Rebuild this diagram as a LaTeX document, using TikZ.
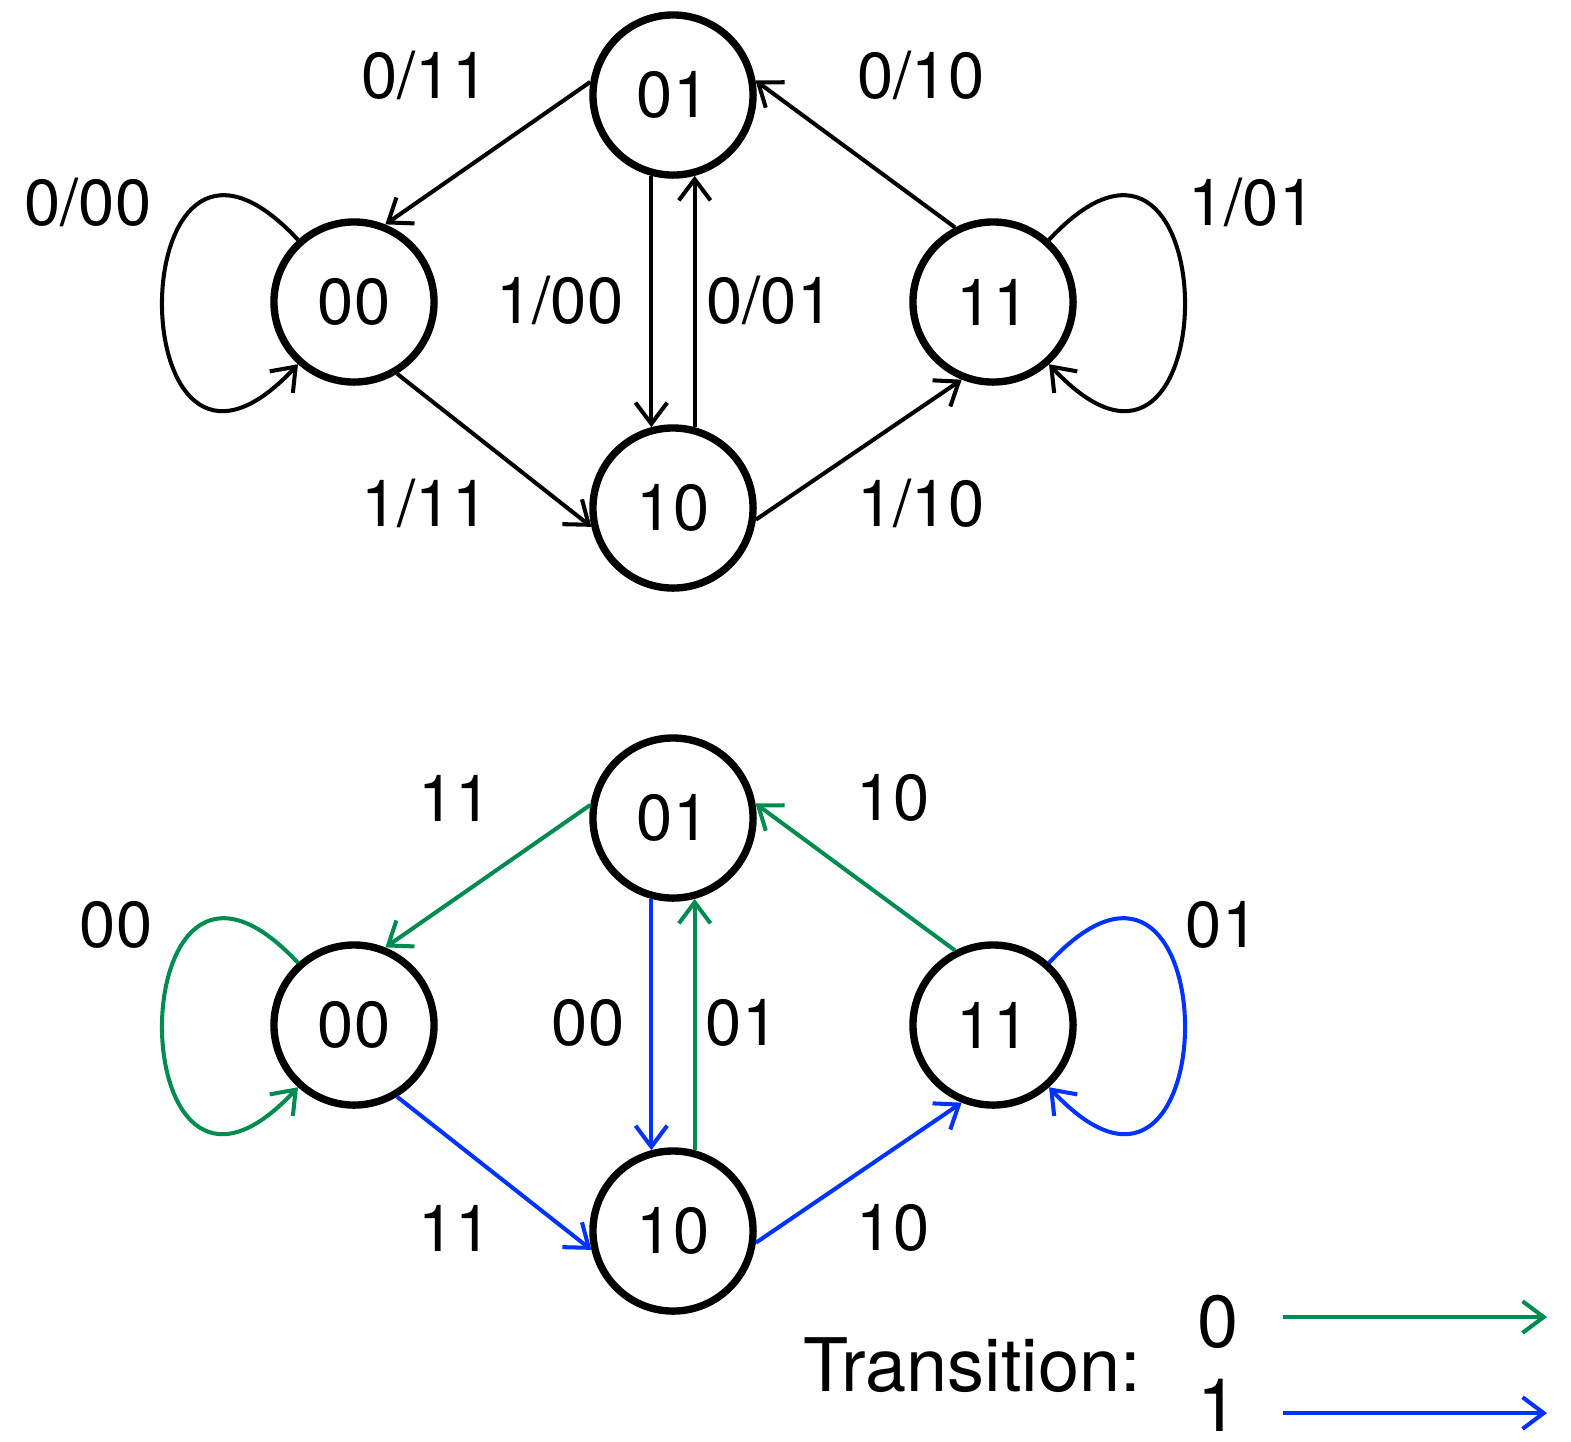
\documentclass[tikz,border=0pt]{standalone}
\usepackage{fontspec}
\setmainfont{TeX Gyre Heros}
\usetikzlibrary{arrows.meta}

\definecolor{zerogreen}{RGB}{0,140,80}
\definecolor{oneblue}{RGB}{0,51,255}

\tikzset{
  sbox/.style={draw, circle, line width=2.1pt, minimum size=1.6cm,
               inner sep=0pt, font=\fontsize{18.5}{20}\selectfont},
  tr/.style={line width=1.15pt, -{Straight Barb[length=6pt,width=9pt,line width=1.15pt]}},
  lbl/.style={font=\fontsize{18.5}{20}\selectfont, inner sep=0pt},
  big/.style={font=\fontsize{21}{24}\selectfont, inner sep=0pt}
}

\begin{document}
\begin{tikzpicture}[x=0.01cm, y=-0.01cm]
\useasboundingbox (0,0) rectangle (1571,1441);

% upper machine, labelled input/output
\node[sbox] (a01) at (673,95) {01};
\node[sbox] (a00) at (354,302) {00};
\node[sbox] (a11) at (993,302) {11};
\node[sbox] (a10) at (673,508) {10};

\draw[tr] (a01.171) -- (a00.68);
\draw[tr] (a00.-59) -- (a10.193);
\draw[tr] (a10.-8) -- (a11.248);
\draw[tr] (a11.117) -- (a01.10);
\draw[tr] (a01.255) -- (a10.105);
\draw[tr] (a10.75) -- (a01.285);
% y axis points down, so polar angles are mirrored
\draw[tr] (a00.132) .. controls +(-133:265) and +(133:265) .. (a00.228);
\draw[tr] (a11.48) .. controls +(-47:265) and +(47:265) .. (a11.312);

\node[lbl] (l1) at (425,75) {0/11};
\node[lbl] (l2) at (921,75) {0/10};
\node[lbl] (l3) at (88,202) {0/00};
\node[lbl] (l4) at (1252,202) {1/01};
\node[lbl] (l5) at (560,300) {1/00};
\node[lbl] (l6) at (770,300) {0/01};
\node[lbl] (l7) at (425,503) {1/11};
\node[lbl] (l8) at (921,503) {1/10};

% lower machine, input shown by colour
\node[sbox] (b01) at (673,818) {01};
\node[sbox] (b00) at (354,1025) {00};
\node[sbox] (b11) at (993,1025) {11};
\node[sbox] (b10) at (673,1231) {10};

\draw[tr, zerogreen] (b01.171) -- (b00.68);
\draw[tr, oneblue] (b00.-59) -- (b10.193);
\draw[tr, oneblue] (b10.-8) -- (b11.248);
\draw[tr, zerogreen] (b11.117) -- (b01.10);
\draw[tr, oneblue] (b01.255) -- (b10.105);
\draw[tr, zerogreen] (b10.75) -- (b01.285);
\draw[tr, zerogreen] (b00.132) .. controls +(-133:265) and +(133:265) .. (b00.228);
\draw[tr, oneblue] (b11.48) .. controls +(-47:265) and +(47:265) .. (b11.312);

\node[lbl] (m1) at (455,798) {11};
\node[lbl] (m2) at (893,798) {10};
\node[lbl] (m3) at (116,925) {00};
\node[lbl] (m4) at (1222,925) {01};
\node[lbl] (m5) at (588,1023) {00};
\node[lbl] (m6) at (742,1023) {01};
\node[lbl] (m7) at (455,1228) {11};
\node[lbl] (m8) at (893,1228) {10};

% legend
\node[big] (trn) at (972,1365) {Transition:};
\node[big] (k0) at (1218,1322) {0};
\node[big] (k1) at (1218,1405) {1};
\coordinate (g0) at (1283,1317);
\coordinate (g1) at (1547,1317);
\coordinate (h0) at (1283,1413);
\coordinate (h1) at (1547,1413);
\draw[tr, zerogreen] (g0) -- (g1);
\draw[tr, oneblue] (h0) -- (h1);
\end{tikzpicture}
\end{document}
